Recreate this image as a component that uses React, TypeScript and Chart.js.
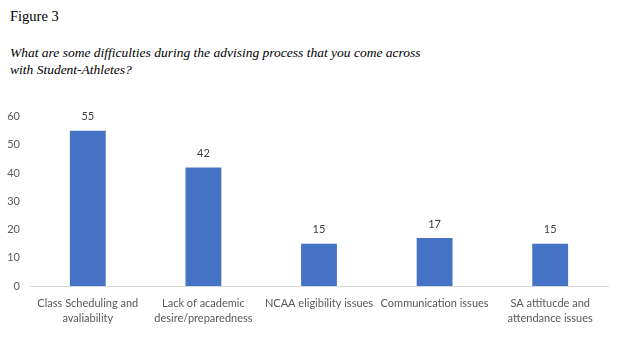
import React, { useEffect, useRef } from "react";
import { Chart, registerables } from "chart.js";

Chart.register(...registerables);

const categories: string[][] = [
  ["Class Scheduling and", "avaliability"],
  ["Lack of academic", "desire/preparedness"],
  ["NCAA eligibility issues"],
  ["Communication issues"],
  ["SA attitucde and", "attendance issues"],
];
const values: number[] = [55, 42, 15, 17, 15];
const yTicks: number[] = [0, 10, 20, 30, 40, 50, 60];

const FONT = "Lato, 'Liberation Sans', sans-serif";

const valueLabels = {
  id: "valueLabels",
  afterDatasetsDraw(chart: any) {
    const ctx = chart.ctx;
    const meta = chart.getDatasetMeta(0);
    ctx.save();
    ctx.font = `11px ${FONT}`;
    ctx.fillStyle = "#404040";
    ctx.textAlign = "center";
    ctx.textBaseline = "middle";
    meta.data.forEach((bar: any, i: number) => {
      ctx.fillText(String(chart.data.datasets[0].data[i]), bar.x, bar.y - 14);
    });
    ctx.restore();
  },
};

export default function App() {
  const ref = useRef<HTMLCanvasElement>(null);
  useEffect(() => {
    if (!ref.current) return;
    const chart = new Chart(ref.current, {
      type: "bar",
      data: {
        labels: categories,
        datasets: [
          {
            data: values,
            backgroundColor: "#4472C4",
            barPercentage: 0.31,
            categoryPercentage: 1,
          },
        ],
      },
      options: {
        animation: false,
        responsive: false,
        maintainAspectRatio: false,
        layout: { padding: { top: 13, right: 9, left: 0, bottom: 0 } },
        plugins: { legend: { display: false }, tooltip: { enabled: false } },
        scales: {
          x: {
            grid: { display: false, drawTicks: false },
            border: { display: true, color: "#D9D9D9", width: 1 },
            ticks: {
              color: "#595959",
              font: { family: FONT, size: 11, lineHeight: 1.38 },
              padding: 10,
              maxRotation: 0,
              autoSkip: false,
            },
            afterFit(scale: any) {
              scale.height = 55;
            },
          },
          y: {
            min: 0,
            max: 60,
            afterBuildTicks(scale: any) {
              scale.ticks = yTicks.map((v) => ({ value: v }));
            },
            grid: { display: false, drawTicks: false },
            border: { display: false },
            ticks: {
              color: "#595959",
              font: { family: FONT, size: 11 },
              padding: 10,
            },
            afterFit(scale: any) {
              scale.width = 30;
            },
          },
        },
      },
      plugins: [valueLabels],
    });
    return () => chart.destroy();
  }, []);

  return (
    <div style={{ position: "absolute", left: 0, top: 0, width: 617, height: 341, background: "#fff" }}>
      <div
        style={{
          position: "absolute",
          left: 10,
          top: 6,
          fontFamily: "'Liberation Serif', serif",
          fontSize: 14.5,
          lineHeight: "20px",
          color: "#000",
          whiteSpace: "nowrap",
        }}
      >
        Figure 3
      </div>
      <div
        style={{
          position: "absolute",
          left: 10,
          top: 44,
          fontFamily: "'Liberation Serif', serif",
          fontStyle: "italic",
          fontSize: 13.5,
          lineHeight: "17px",
          color: "#000",
          whiteSpace: "nowrap",
        }}
      >
        What are some difficulties during the advising process that you come across
        <br />
        with Student-Athletes?
      </div>
      <canvas
        ref={ref}
        width={617}
        height={241}
        style={{ position: "absolute", left: 0, top: 100, width: 617, height: 241 }}
      />
    </div>
  );
}
